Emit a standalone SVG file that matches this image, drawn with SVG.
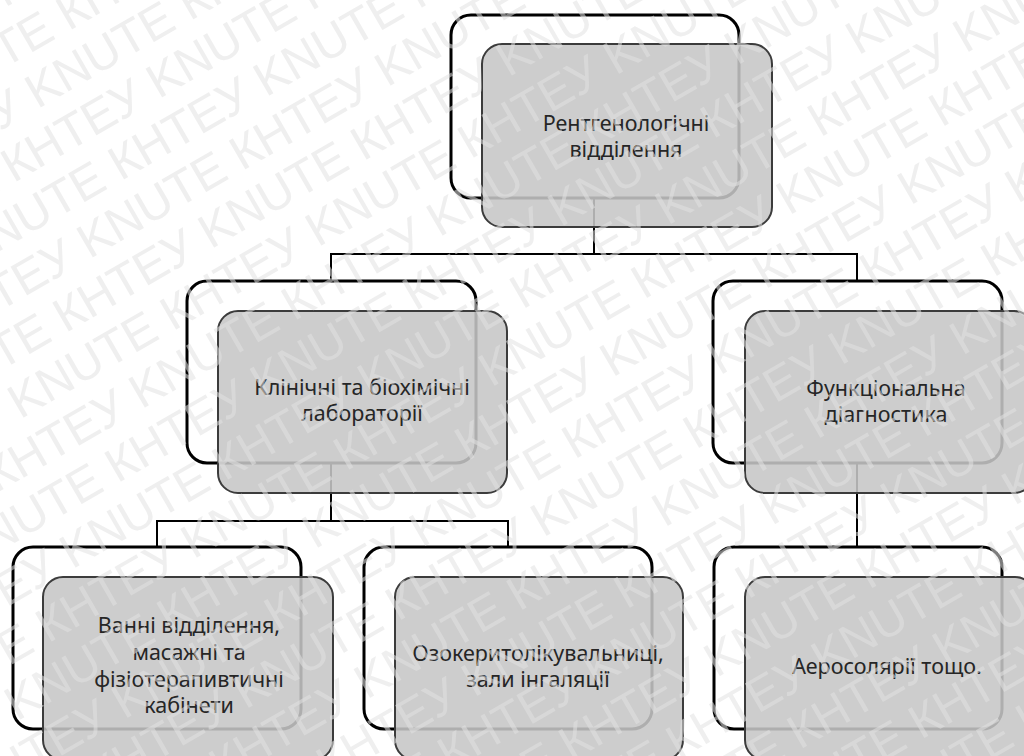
<svg xmlns="http://www.w3.org/2000/svg" width="1024" height="756" viewBox="0 0 1024 756">
  <style>
    .back { fill: #ffffff; stroke: #000000; stroke-width: 3; }
    .front { fill: #c6c6c6; fill-opacity: 0.88; stroke: #3c3c3c; stroke-width: 2; }
    .lbl { font-family: "Noto Sans", "Open Sans", sans-serif; font-size: 21.5px; fill: #262626; text-anchor: middle; }
    .conn { fill: none; stroke: #000000; stroke-width: 2; }
    .wm { font-family: "Liberation Sans", Arial, sans-serif; font-size: 48px; fill: #e2e2e2; }
  </style>
  <rect x="0" y="0" width="1024" height="756" fill="#ffffff"/>

  <g id="connectors">
    <path class="conn" d="M594,198 V254 M331,281 V254 H857 V281"/>
    <path class="conn" d="M331,463 V521 M157,547 V521 H508 V547"/>
    <path class="conn" d="M857,463 V547"/>
  </g>

  <g id="node-rentgen">
    <rect class="back" x="451" y="15" width="288" height="183" rx="20"/>
    <rect class="front" x="482" y="44" width="290" height="183" rx="20"/>
    <text class="lbl" x="626" y="131">Рентгенологічні</text>
    <text class="lbl" x="626" y="157">відділення</text>
  </g>

  <g id="node-labs">
    <rect class="back" x="187" y="281" width="289" height="182" rx="20"/>
    <rect class="front" x="218" y="311" width="289" height="182" rx="20"/>
    <text class="lbl" x="362" y="395">Клінічні та біохімічні</text>
    <text class="lbl" x="362" y="421">лабораторії</text>
  </g>

  <g id="node-func">
    <rect class="back" x="713" y="281" width="289" height="182" rx="20"/>
    <rect class="front" x="745" y="311" width="289" height="182" rx="20"/>
    <text class="lbl" x="886" y="396">Функціональна</text>
    <text class="lbl" x="886" y="422">діагностика</text>
  </g>

  <g id="node-baths">
    <rect class="back" x="13" y="547" width="288" height="182" rx="20"/>
    <rect class="front" x="43" y="577" width="290" height="183" rx="20"/>
    <text class="lbl" x="189" y="633">Ванні відділення,</text>
    <text class="lbl" x="189" y="660">масажні та</text>
    <text class="lbl" x="189" y="687">фізіотерапивтичні</text>
    <text class="lbl" x="189" y="713">кабінети</text>
  </g>

  <g id="node-ozokerit">
    <rect class="back" x="364" y="547" width="288" height="182" rx="20"/>
    <rect class="front" x="395" y="577" width="288" height="183" rx="20"/>
    <text class="lbl" x="538" y="661">Озокеритолікувальниці,</text>
    <text class="lbl" x="538" y="687">зали інгаляції</text>
  </g>

  <g id="node-aerosol">
    <rect class="back" x="714" y="547" width="288" height="182" rx="20"/>
    <rect class="front" x="745" y="577" width="290" height="183" rx="20"/>
    <text class="lbl" x="887" y="674">Аеросолярії тощо.</text>
  </g>

  <g id="watermark" transform="rotate(-30 512 378)" opacity="0.55">
    <text class="wm" x="-700" y="-300">КНТЕУ KNUTE КНТЕУ KNUTE КНТЕУ KNUTE КНТЕУ KNUTE КНТЕУ KNUTE КНТЕУ KNUTE КНТЕУ KNUTE</text>
    <text class="wm" x="-590" y="-248">КНТЕУ KNUTE КНТЕУ KNUTE КНТЕУ KNUTE КНТЕУ KNUTE КНТЕУ KNUTE КНТЕУ KNUTE КНТЕУ KNUTE</text>
    <text class="wm" x="-480" y="-196">КНТЕУ KNUTE КНТЕУ KNUTE КНТЕУ KNUTE КНТЕУ KNUTE КНТЕУ KNUTE КНТЕУ KNUTE КНТЕУ KNUTE</text>
    <text class="wm" x="-730" y="-144">КНТЕУ KNUTE КНТЕУ KNUTE КНТЕУ KNUTE КНТЕУ KNUTE КНТЕУ KNUTE КНТЕУ KNUTE КНТЕУ KNUTE</text>
    <text class="wm" x="-620" y="-92">КНТЕУ KNUTE КНТЕУ KNUTE КНТЕУ KNUTE КНТЕУ KNUTE КНТЕУ KNUTE КНТЕУ KNUTE КНТЕУ KNUTE</text>
    <text class="wm" x="-510" y="-40">КНТЕУ KNUTE КНТЕУ KNUTE КНТЕУ KNUTE КНТЕУ KNUTE КНТЕУ KNUTE КНТЕУ KNUTE КНТЕУ KNUTE</text>
    <text class="wm" x="-760" y="12">КНТЕУ KNUTE КНТЕУ KNUTE КНТЕУ KNUTE КНТЕУ KNUTE КНТЕУ KNUTE КНТЕУ KNUTE КНТЕУ KNUTE</text>
    <text class="wm" x="-650" y="64">КНТЕУ KNUTE КНТЕУ KNUTE КНТЕУ KNUTE КНТЕУ KNUTE КНТЕУ KNUTE КНТЕУ KNUTE КНТЕУ KNUTE</text>
    <text class="wm" x="-540" y="116">КНТЕУ KNUTE КНТЕУ KNUTE КНТЕУ KNUTE КНТЕУ KNUTE КНТЕУ KNUTE КНТЕУ KNUTE КНТЕУ KNUTE</text>
    <text class="wm" x="-790" y="168">КНТЕУ KNUTE КНТЕУ KNUTE КНТЕУ KNUTE КНТЕУ KNUTE КНТЕУ KNUTE КНТЕУ KNUTE КНТЕУ KNUTE</text>
    <text class="wm" x="-680" y="220">КНТЕУ KNUTE КНТЕУ KNUTE КНТЕУ KNUTE КНТЕУ KNUTE КНТЕУ KNUTE КНТЕУ KNUTE КНТЕУ KNUTE</text>
    <text class="wm" x="-570" y="272">КНТЕУ KNUTE КНТЕУ KNUTE КНТЕУ KNUTE КНТЕУ KNUTE КНТЕУ KNUTE КНТЕУ KNUTE КНТЕУ KNUTE</text>
    <text class="wm" x="-820" y="324">КНТЕУ KNUTE КНТЕУ KNUTE КНТЕУ KNUTE КНТЕУ KNUTE КНТЕУ KNUTE КНТЕУ KNUTE КНТЕУ KNUTE</text>
    <text class="wm" x="-710" y="376">КНТЕУ KNUTE КНТЕУ KNUTE КНТЕУ KNUTE КНТЕУ KNUTE КНТЕУ KNUTE КНТЕУ KNUTE КНТЕУ KNUTE</text>
    <text class="wm" x="-600" y="428">КНТЕУ KNUTE КНТЕУ KNUTE КНТЕУ KNUTE КНТЕУ KNUTE КНТЕУ KNUTE КНТЕУ KNUTE КНТЕУ KNUTE</text>
    <text class="wm" x="-850" y="480">КНТЕУ KNUTE КНТЕУ KNUTE КНТЕУ KNUTE КНТЕУ KNUTE КНТЕУ KNUTE КНТЕУ KNUTE КНТЕУ KNUTE</text>
    <text class="wm" x="-740" y="532">КНТЕУ KNUTE КНТЕУ KNUTE КНТЕУ KNUTE КНТЕУ KNUTE КНТЕУ KNUTE КНТЕУ KNUTE КНТЕУ KNUTE</text>
    <text class="wm" x="-630" y="584">КНТЕУ KNUTE КНТЕУ KNUTE КНТЕУ KNUTE КНТЕУ KNUTE КНТЕУ KNUTE КНТЕУ KNUTE КНТЕУ KNUTE</text>
    <text class="wm" x="-880" y="636">КНТЕУ KNUTE КНТЕУ KNUTE КНТЕУ KNUTE КНТЕУ KNUTE КНТЕУ KNUTE КНТЕУ KNUTE КНТЕУ KNUTE</text>
    <text class="wm" x="-770" y="688">КНТЕУ KNUTE КНТЕУ KNUTE КНТЕУ KNUTE КНТЕУ KNUTE КНТЕУ KNUTE КНТЕУ KNUTE КНТЕУ KNUTE</text>
    <text class="wm" x="-660" y="740">КНТЕУ KNUTE КНТЕУ KNUTE КНТЕУ KNUTE КНТЕУ KNUTE КНТЕУ KNUTE КНТЕУ KNUTE КНТЕУ KNUTE</text>
    <text class="wm" x="-910" y="792">КНТЕУ KNUTE КНТЕУ KNUTE КНТЕУ KNUTE КНТЕУ KNUTE КНТЕУ KNUTE КНТЕУ KNUTE КНТЕУ KNUTE</text>
    <text class="wm" x="-800" y="844">КНТЕУ KNUTE КНТЕУ KNUTE КНТЕУ KNUTE КНТЕУ KNUTE КНТЕУ KNUTE КНТЕУ KNUTE КНТЕУ KNUTE</text>
    <text class="wm" x="-690" y="896">КНТЕУ KNUTE КНТЕУ KNUTE КНТЕУ KNUTE КНТЕУ KNUTE КНТЕУ KNUTE КНТЕУ KNUTE КНТЕУ KNUTE</text>
    <text class="wm" x="-940" y="948">КНТЕУ KNUTE КНТЕУ KNUTE КНТЕУ KNUTE КНТЕУ KNUTE КНТЕУ KNUTE КНТЕУ KNUTE КНТЕУ KNUTE</text>
    <text class="wm" x="-830" y="1000">КНТЕУ KNUTE КНТЕУ KNUTE КНТЕУ KNUTE КНТЕУ KNUTE КНТЕУ KNUTE КНТЕУ KNUTE КНТЕУ KNUTE</text>
    <text class="wm" x="-720" y="1052">КНТЕУ KNUTE КНТЕУ KNUTE КНТЕУ KNUTE КНТЕУ KNUTE КНТЕУ KNUTE КНТЕУ KNUTE КНТЕУ KNUTE</text>
  </g>
</svg>
